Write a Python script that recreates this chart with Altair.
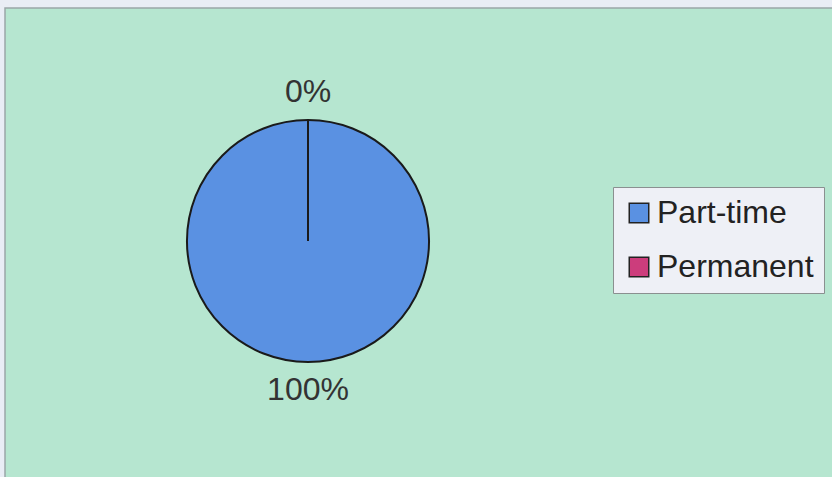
import altair as alt
import pandas as pd

categories = ["Part-time", "Permanent"]
values = [100, 0]
labels = ["100%", "0%"]
colors = ["#5a91e2", "#cc3d7c"]

df = pd.DataFrame({"category": categories, "value": values, "label": labels})

CX, CY, R = 308, 241, 121

bg = alt.Chart(pd.DataFrame({"a": [0]})).mark_rect(
    fill="#b6e6d0", stroke="#9aa6a8", strokeWidth=1.5
).encode(x=alt.value(5), x2=alt.value(834), y=alt.value(8), y2=alt.value(480))

base = alt.Chart(df).encode(
    theta=alt.Theta("value:Q", stack=True),
    order=alt.Order("category:N"),
)

pie = base.mark_arc(
    outerRadius=R, stroke="#1a1a1a", strokeWidth=2
).encode(
    x=alt.value(CX), y=alt.value(CY),
    color=alt.Color(
        "category:N",
        scale=alt.Scale(domain=categories, range=colors),
        legend=alt.Legend(
            title=None,
            orient="none",
            legendX=613,
            legendY=187,
            symbolType="square",
            symbolSize=380,
            symbolStrokeColor="#222222",
            symbolStrokeWidth=1.5,
            symbolOffset=0,
            labelFontSize=32,
            labelFont="Liberation Sans",
            labelColor="#222222",
            labelLimit=400,
            fillColor="#eef0f6",
            strokeColor="#8a9090",
            padding=10,
            rowPadding=22,
            labelOffset=2,
        ),
    ),
)

text = base.mark_text(
    radius=149, fontSize=32, font="Liberation Sans"
).encode(text="label:N", x=alt.value(CX), y=alt.value(CY), color=alt.value("#333333"))

chart = alt.layer(bg, pie, text).properties(
    width=832, height=477, background="#e9edf5", padding=0,
    autosize=alt.AutoSizeParams(type="none"),
).configure_view(stroke=None)

chart.save("out.html", embed_options={"renderer": "svg", "actions": False})
